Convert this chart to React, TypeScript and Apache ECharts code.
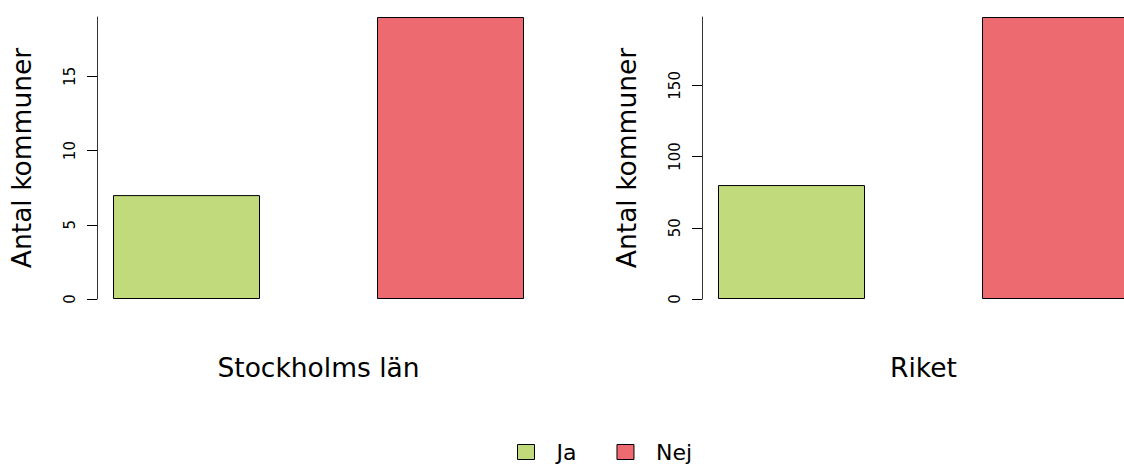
import React, { useEffect, useRef } from "react";
import * as echarts from "echarts";

const categories = ["Ja", "Nej"];
const regions = ["Stockholms län", "Riket"];
const stockholmValues = [7, 19];
const riketValues = [80, 198];
const stockholmTicks = [0, 5, 10, 15];
const riketTicks = [0, 50, 100, 150];
const colors = ["#C1DA7B", "#EE6A71"];
const yTitle = "Antal kommuner";

const FONT = "DejaVu Sans";

function makeY(gridIndex: number, max: number, ticks: number[]) {
  return {
    type: "value",
    gridIndex,
    min: 0,
    max,
    position: "left",
    offset: -42.5,
    splitLine: { show: false },
    axisLine: { show: true, lineStyle: { color: "#333", width: 1 } },
    axisTick: { show: true, length: 10, customValues: ticks, lineStyle: { color: "#000" } },
    axisLabel: {
      show: true,
      customValues: ticks,
      rotate: 90,
      margin: 20,
      color: "#000",
      fontFamily: FONT,
      fontSize: 15,
    },
    name: yTitle,
    nameLocation: "middle",
    nameGap: 62,
    nameTextStyle: { fontFamily: FONT, fontSize: 26.5, color: "#000" },
  };
}

function makeX(gridIndex: number, title: string) {
  return {
    type: "category",
    gridIndex,
    data: categories,
    axisLine: { show: false },
    axisTick: { show: false },
    axisLabel: { show: false },
    name: title,
    nameLocation: "middle",
    nameGap: 55,
    nameTextStyle: { fontFamily: FONT, fontSize: 26.5, color: "#000" },
  };
}

function makeSeries(axisIndex: number, values: number[]) {
  return categories.map((cat, i) => ({
    name: cat,
    type: "bar",
    xAxisIndex: axisIndex,
    yAxisIndex: axisIndex,
    stack: "s" + axisIndex,
    barWidth: 147,
    data: values.map((v, j) => (j === i ? v : "-")),
    itemStyle: { color: colors[i], borderColor: "#000", borderWidth: 1 },
  }));
}

export default function App() {
  const ref = useRef<HTMLDivElement>(null);
  useEffect(() => {
    if (!ref.current) return;
    const chart = echarts.init(ref.current, undefined, { renderer: "svg" });
    chart.setOption({
      animation: false,
      backgroundColor: "#fff",
      grid: [
        { left: 54.5, top: 17, width: 528, height: 282 },
        { left: 659.5, top: 17, width: 528, height: 282 },
      ],
      xAxis: [makeX(0, regions[0]), makeX(1, regions[1])],
      yAxis: [
        makeY(0, stockholmValues[1], stockholmTicks),
        makeY(1, riketValues[1], riketTicks),
      ],
      legend: {
        data: categories,
        top: 436,
        left: 512,
        icon: "rect",
        itemWidth: 17,
        itemHeight: 15,
        itemGap: 40,
        itemStyle: { borderColor: "#000", borderWidth: 1 },
        textStyle: { fontFamily: FONT, fontSize: 22, color: "#000", padding: [0, 0, 0, 17] },
      },
      series: [...makeSeries(0, stockholmValues), ...makeSeries(1, riketValues)],
    });
    return () => chart.dispose();
  }, []);
  return (
    <div
      style={{ position: "absolute", left: 0, top: 0, width: 1124, height: 466, overflow: "hidden", background: "#fff" }}
    >
      <div ref={ref} style={{ width: 1260, height: 466 }} />
    </div>
  );
}
